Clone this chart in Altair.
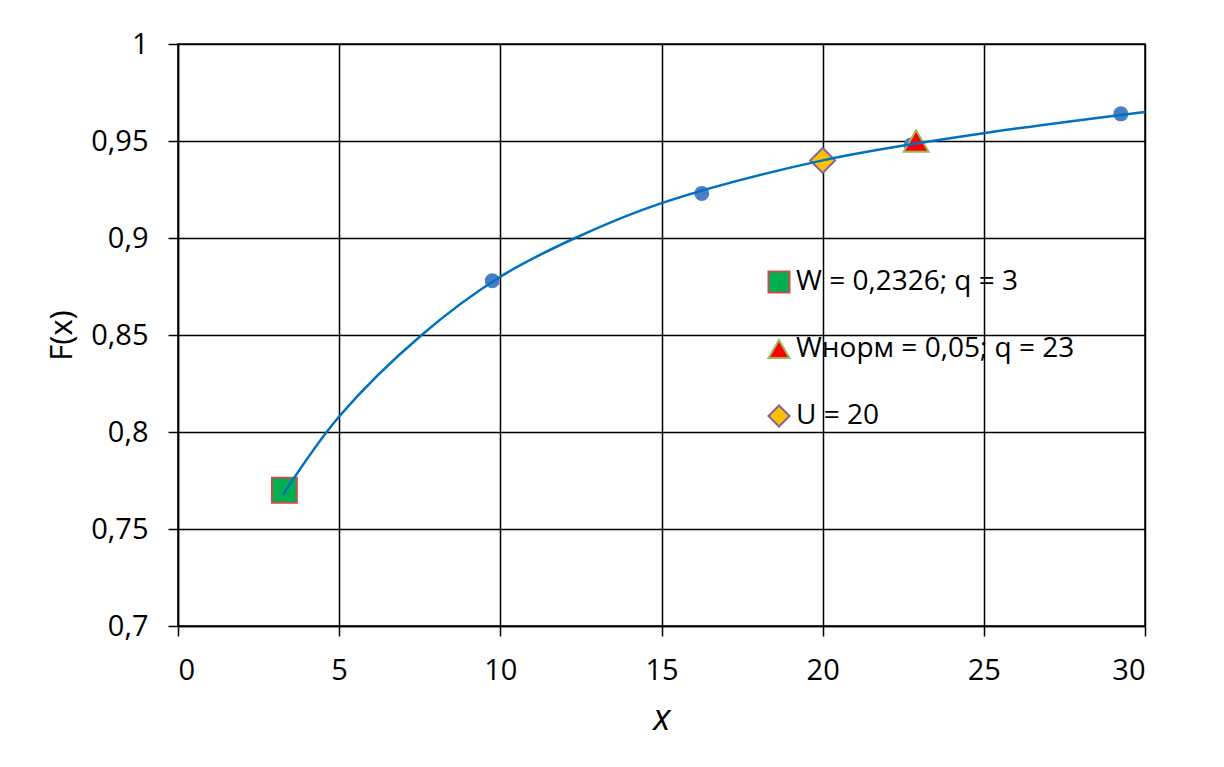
import altair as alt
import pandas as pd

# observed points (blue circles)
pt_x = [3.25, 9.75, 16.25, 22.75, 29.25]
pt_y = [0.770, 0.878, 0.923, 0.948, 0.964]

# smooth curve
curve_x = [3.25, 5.0, 7.56, 10.0, 12.32, 15.0, 20.0, 25.0, 30.0]
curve_y = [0.7675, 0.808, 0.850, 0.880, 0.900, 0.918, 0.940, 0.954, 0.965]

# special markers
sp_label = ["W = 0,2326; q = 3", "Wнорм = 0,05; q = 23", "U = 20"]
sp_x = [3.3, 22.9, 20.0]
sp_y = [0.770, 0.950, 0.940]
sp_shape = ["square", "triangle-up", "diamond"]
sp_fill = ["#00B050", "#FF0000", "#FFC000"]
sp_stroke = ["#C0504D", "#9BBB59", "#8064A2"]

x_ticks = [0, 5, 10, 15, 20, 25, 30]
y_ticks = [0.7, 0.75, 0.8, 0.85, 0.9, 0.95, 1.0]

FONT = "Open Sans"

pts = pd.DataFrame({"x": pt_x, "y": pt_y})
crv = pd.DataFrame({"x": curve_x, "y": curve_y})
sp = pd.DataFrame({"label": sp_label, "x": sp_x, "y": sp_y})

xs = alt.Scale(domain=[0, 30], nice=False, zero=False)
ys = alt.Scale(domain=[0.7, 1.0], nice=False, zero=False)

xax = alt.Axis(values=x_ticks, title="x", titleFontStyle="italic", titleFontSize=36,
               titleFontWeight="normal", titleY=92, titleBaseline="middle",
               labelFontSize=29, labelPadding=20, tickSize=10)
yax = alt.Axis(values=y_ticks, title="F(x)", titleFontSize=31, titleFontWeight="normal",
               titleX=-116, titleBaseline="middle", titleAngle=-90,
               labelFontSize=29, labelPadding=20, tickSize=10,
               labelExpr="replace(format(datum.value, '~g'), '.', ',')")

circles = alt.Chart(pts).mark_point(shape="circle", filled=True, size=225, color="#4A7EC4", opacity=1).encode(
    x=alt.X("x:Q", scale=xs, axis=xax),
    y=alt.Y("y:Q", scale=ys, axis=yax),
)

special = alt.Chart(sp).mark_point(filled=True, size=620, strokeWidth=2, opacity=1).encode(
    x=alt.X("x:Q", scale=xs, axis=xax),
    y=alt.Y("y:Q", scale=ys, axis=yax),
    shape=alt.Shape("label:N", scale=alt.Scale(domain=sp_label, range=sp_shape), title=None),
    fill=alt.Fill("label:N", scale=alt.Scale(domain=sp_label, range=sp_fill), title=None),
    stroke=alt.Stroke("label:N", scale=alt.Scale(domain=sp_label, range=sp_stroke), title=None),
)

line = alt.Chart(crv).mark_line(interpolate="catmull-rom", color="#0070C0", strokeWidth=2.5).encode(
    x=alt.X("x:Q", scale=xs, axis=xax),
    y=alt.Y("y:Q", scale=ys, axis=yax),
)

chart = alt.layer(circles, special, line).properties(
    width=967, height=582,
    autosize=alt.AutoSizeParams(type="none"),
    padding={"left": 170, "top": 36, "right": 71, "bottom": 133},
).configure(
    font=FONT,
).configure_view(
    stroke="black", strokeWidth=1.5,
).configure_axis(
    gridColor="black", gridWidth=1.5, gridOpacity=1,
    domainColor="black", domainWidth=1.5,
    tickColor="black", tickWidth=1.5,
    labelColor="black", titleColor="black",
    labelFont=FONT, titleFont=FONT, labelFontSize=29,
).configure_legend(
    orient="none", legendX=587, legendY=224,
    labelFontSize=28, labelFont=FONT, labelColor="black", labelLimit=0,
    symbolSize=441, symbolStrokeWidth=2, rowPadding=38,
    labelOffset=3, padding=0,
)

chart.save("out.html", embed_options={"renderer": "svg", "actions": False})
